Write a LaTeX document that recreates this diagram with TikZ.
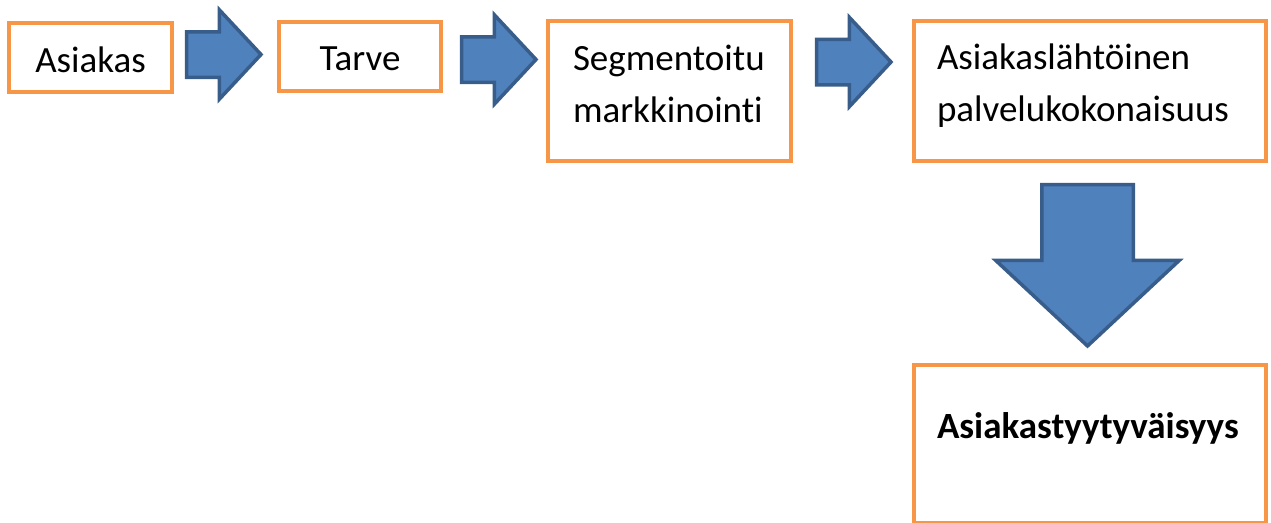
\documentclass[tikz,border=0pt]{standalone}
\usepackage{fontspec}
\setmainfont{Carlito}[Ligatures=NoCommon]
\usetikzlibrary{shapes.arrows}
\definecolor{oranssi}{HTML}{F79646}
\definecolor{nuolisini}{HTML}{4F81BD}
\definecolor{nuolireuna}{HTML}{385D8A}
\begin{document}
\begin{tikzpicture}[
        x=1pt, y=-1pt,
        every node/.style={font=\fontsize{37}{52}\selectfont, outer sep=0pt},
        laatikko/.style={rectangle, draw=oranssi, line width=4pt, fill=white, inner ysep=0pt},
        keskella/.style={laatikko, inner xsep=0pt},
        vasen/.style={laatikko, align=left},
        nuoli/.style={single arrow, draw=nuolireuna, fill=nuolisini, line width=3.5pt, inner xsep=0pt, inner ysep=21,
            single arrow tip angle=94, single arrow head extend=22, minimum height=74.5, anchor=tail}
    ]
 \useasboundingbox (0,0) rectangle (1271,522);
 \clip (0,0) rectangle (1271,522);
 % laatikot
 \node[keskella, minimum width=163, minimum height=69, text height=29, text depth=0] (asiakas) at (90.5,57.5) {Asiakas};
 \node[keskella, minimum width=162, minimum height=69, text height=27, text depth=0] (tarve) at (360,56.5) {Tarve};
 \node[vasen, inner xsep=25, text width=193, minimum height=140, text height=10, text depth=52] (segm) at (669.5,91) {Segmentoitu\\markkinointi};
 \node[vasen, inner xsep=23, text width=306, minimum height=140, text height=10, text depth=54] (palvelu) at (1090,91) {Asiakaslähtöinen\\palvelukokonaisuus};
 \node[vasen, inner xsep=23, text width=306, minimum height=158, text height=20, text depth=32] (tyyt) at (1090,444) {\bfseries Asiakastyytyväisyys};
 % nuolet
 \node[nuoli] (n1) at (186.5,54.5) {};
 \node[nuoli] (n2) at (461.5,59.5) {};
 \node[nuoli] (n3) at (816.5,62) {};
 \node[nuoli, shape border rotate=270, inner xsep=44, inner ysep=0pt, single arrow head extend=46, minimum height=161.5] (n4) at (1087.5,184.5) {};
\end{tikzpicture}
\end{document}
